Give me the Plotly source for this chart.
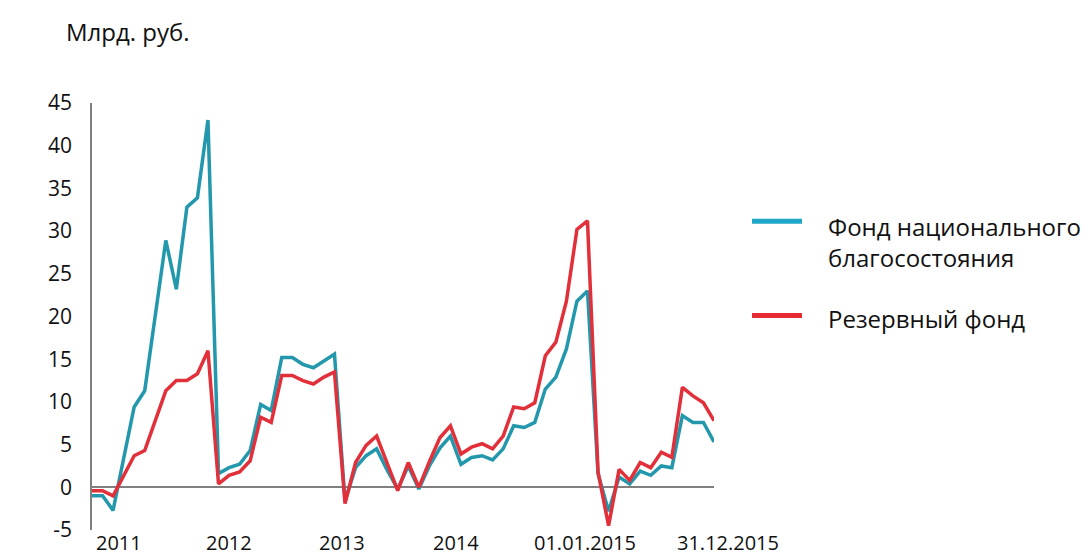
import plotly.graph_objects as go

# ---- data (monthly, Jan 2011 – Dec 2015), bln RUB ----
months = [f"{y}-{m:02d}" for y in range(2011, 2016) for m in range(1, 13)]

nwf = [-1.0, -1.0, -2.7, 3.3, 9.4, 11.3, 20.0, 28.9, 23.2, 32.8, 33.9, 43.0,
       1.6, 2.3, 2.7, 4.3, 9.7, 9.0, 15.2, 15.2, 14.4, 14.0, 14.8, 15.6,
       -1.6, 2.3, 3.7, 4.5, 2.0, -0.2, 2.5, -0.2, 2.5, 4.6, 6.0, 2.7,
       3.5, 3.7, 3.2, 4.5, 7.2, 7.0, 7.6, 11.5, 12.9, 16.2, 21.8, 23.0,
       1.6, -2.8, 1.2, 0.4, 1.9, 1.4, 2.5, 2.3, 8.4, 7.6, 7.6, 5.3]

reserve = [-0.4, -0.4, -1.0, 1.4, 3.7, 4.3, 7.8, 11.3, 12.5, 12.5, 13.3, 16.0,
           0.4, 1.4, 1.8, 3.1, 8.2, 7.6, 13.1, 13.1, 12.5, 12.1, 12.9, 13.5,
           -1.9, 2.9, 4.9, 6.0, 2.8, -0.4, 2.9, 0.0, 3.0, 5.8, 7.2, 3.9,
           4.7, 5.1, 4.5, 6.0, 9.4, 9.2, 9.9, 15.4, 17.0, 21.8, 30.2, 31.2,
           1.8, -4.5, 2.1, 0.8, 2.9, 2.3, 4.1, 3.5, 11.7, 10.7, 9.9, 7.8]

series_names = ["Фонд национального<br>благосостояния", "Резервный фонд"]
x_tick_labels = ["2011", "2012", "2013", "2014", "01.01.2015", "31.12.2015"]
x_tick_pos = [2.57, 12.95, 23.71, 34.48, 46.76, 60.29]   # category-index positions of labels
y_tick_vals = [-5, 0, 5, 10, 15, 20, 25, 30, 35, 40, 45]
y_tick_text = ["-5", "0", "5", "10", "15", "20", "25", "30", "35", "40", "45"]
unit_label = "Млрд. руб."

# ---- style ----
FONT = "Open Sans"
TEAL = "#2398AC"
TEAL_LEG = "#1FA6C6"
RED = "#E2303A"
RED_LEG = "#E52A33"
AXIS_GRAY = "#7F7F7F"

W, H = 1091, 555
L, R, T, B = 92, 377, 103, 22
PW, PH = W - L - R, H - T - B
N = len(months)


def px_x(px):
    return (px - L) / PW


def px_y(py):
    return (H - B - py) / PH


fig = go.Figure()
fig.add_trace(go.Scatter(x=months, y=nwf, mode="lines", name="ФНБ",
                         line=dict(color=TEAL, width=3.5)))
fig.add_trace(go.Scatter(x=months, y=reserve, mode="lines", name="Резервный фонд",
                         line=dict(color=RED, width=3.5)))

fig.update_layout(
    width=W, height=H,
    margin=dict(l=L, r=R, t=T, b=B, pad=0),
    paper_bgcolor="white", plot_bgcolor="white",
    showlegend=False,
    font=dict(family=FONT, size=20, color="#111111"),
)
fig.update_xaxes(type="category", range=[0, N - 1],
                 showticklabels=False, showgrid=False, zeroline=False,
                 showline=False, ticks="")
fig.update_yaxes(range=[-5, 45], tickvals=y_tick_vals, ticktext=y_tick_text,
                 showgrid=False,
                 zeroline=True, zerolinecolor=AXIS_GRAY, zerolinewidth=1.6,
                 showline=True, linecolor=AXIS_GRAY, linewidth=1.6,
                 ticks="", ticklabelstandoff=14,
                 tickfont=dict(family=FONT, size=21, color="#111111"))

ann = []
for lab, pos in zip(x_tick_labels, x_tick_pos):
    ann.append(dict(x=pos / (N - 1), y=px_y(545.5), xref="paper", yref="paper", text=lab,
                    showarrow=False, xanchor="center", yanchor="middle",
                    font=dict(family=FONT, size=20, color="#111111")))
ann.append(dict(x=px_x(64), y=px_y(31), xref="paper", yref="paper", text=unit_label,
                showarrow=False, xanchor="left", yanchor="middle",
                font=dict(family=FONT, size=24, color="#111111")))
# legend (manual)
ann.append(dict(x=px_x(826), y=px_y(243), xref="paper", yref="paper", text=series_names[0],
                showarrow=False, xanchor="left", yanchor="middle", align="left",
                font=dict(family=FONT, size=24, color="#111111")))
ann.append(dict(x=px_x(826), y=px_y(320), xref="paper", yref="paper", text=series_names[1],
                showarrow=False, xanchor="left", yanchor="middle", align="left",
                font=dict(family=FONT, size=24, color="#111111")))
fig.update_layout(annotations=ann)

shapes = [
    dict(type="line", xref="paper", yref="paper", x0=px_x(752), x1=px_x(802),
         y0=px_y(222), y1=px_y(222), line=dict(color=TEAL_LEG, width=5)),
    dict(type="line", xref="paper", yref="paper", x0=px_x(752), x1=px_x(802),
         y0=px_y(317), y1=px_y(317), line=dict(color=RED_LEG, width=5)),
]
fig.update_layout(shapes=shapes)

fig.write_html("out.html", config={"displayModeBar": False},
               post_script="document.body.style.margin='0';")
